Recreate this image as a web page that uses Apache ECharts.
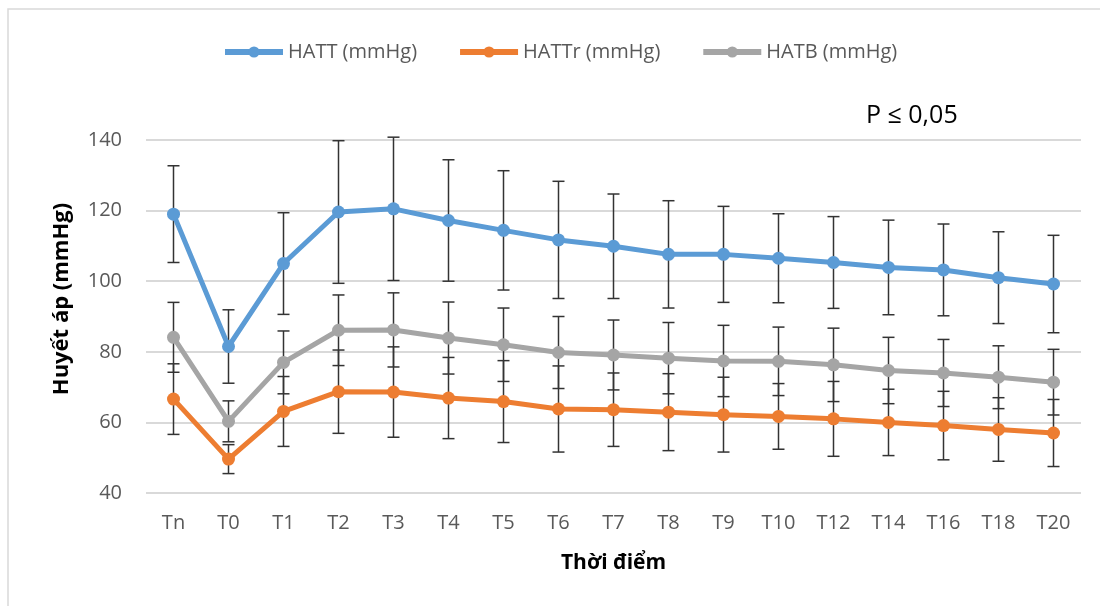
<!DOCTYPE html>
<html>
<head>
<meta charset="utf-8">
<script src="https://cdn.jsdelivr.net/npm/echarts@6/dist/echarts.min.js"></script>
<style>
  html, body { margin: 0; padding: 0; background: #fff; }
  #chart { width: 1100px; height: 606px; }
</style>
</head>
<body>
<div id="chart"></div>
<script>
var categories = ["Tn", "T0", "T1", "T2", "T3", "T4", "T5", "T6", "T7", "T8", "T9", "T10", "T12", "T14", "T16", "T18", "T20"];

// mean values
var hattMean = [119, 81.5, 105, 119.6, 120.5, 117.2, 114.4, 111.7, 109.9, 107.6, 107.6, 106.5, 105.3, 103.9, 103.2, 101, 99.2];
var hattrMean = [66.6, 49.6, 63.1, 68.7, 68.6, 66.9, 65.9, 63.8, 63.6, 62.9, 62.2, 61.7, 61.0, 60.0, 59.1, 58.0, 57.0];
var hatbMean = [84.1, 60.3, 77, 86.1, 86.2, 83.9, 82, 79.8, 79.1, 78.2, 77.4, 77.3, 76.3, 74.7, 74, 72.8, 71.4];

// standard deviations (error bars)
var hattSd = [13.7, 10.4, 14.4, 20.2, 20.3, 17.2, 16.9, 16.6, 14.8, 15.2, 13.6, 12.6, 13, 13.4, 13, 13, 13.8];
var hattrSd = [10, 4.1, 9.9, 11.8, 12.8, 11.5, 11.6, 12.2, 10.4, 10.9, 10.6, 9.3, 10.6, 9.4, 9.7, 9, 9.5];
var hatbSd = [9.9, 5.8, 8.9, 10, 10.5, 10.2, 10.4, 10.2, 9.9, 10.1, 10.1, 9.7, 10.4, 9.4, 9.5, 8.9, 9.3];

var font = "'Open Sans', 'Noto Sans', sans-serif";
var textGrey = "#595959";

function errData(mean, sd) {
  return mean.map(function (m, i) {
    return [i, m - sd[i], m + sd[i]];
  });
}

function renderErr(params, api) {
  var x = api.value(0);
  var lo = api.coord([x, api.value(1)]);
  var hi = api.coord([x, api.value(2)]);
  var cap = 6;
  var st = { stroke: "#333", lineWidth: 1.5 };
  return {
    type: "group",
    children: [
      { type: "line", shape: { x1: hi[0], y1: hi[1], x2: lo[0], y2: lo[1] }, style: st },
      { type: "line", shape: { x1: hi[0] - cap, y1: hi[1], x2: hi[0] + cap, y2: hi[1] }, style: st },
      { type: "line", shape: { x1: lo[0] - cap, y1: lo[1], x2: lo[0] + cap, y2: lo[1] }, style: st }
    ]
  };
}

function lineSeries(name, data, color) {
  return {
    name: name,
    type: "line",
    data: data,
    z: 3,
    symbol: "circle",
    symbolSize: 13,
    lineStyle: { width: 5, color: color },
    itemStyle: { color: color },
    animation: false
  };
}

function errSeries(data) {
  return {
    type: "custom",
    data: data,
    renderItem: renderErr,
    z: 2,
    silent: true,
    animation: false
  };
}

var myChart = echarts.init(document.getElementById("chart"));
var option = {
  backgroundColor: "#fff",
  textStyle: { fontFamily: font },
  graphic: [
    {
      type: "rect",
      shape: { x: 8, y: 9, width: 1120, height: 620 },
      style: { fill: "none", stroke: "#d9d9d9", lineWidth: 1.5 },
      silent: true
    },
    {
      type: "text",
      left: 866,
      top: 103,
      style: { text: "P \u2264 0,05", fontSize: 25, fill: "#000", fontFamily: font }
    },
    {
      // y axis title
      type: "text",
      x: 62,
      y: 299,
      rotation: Math.PI / 2,
      style: {
        text: "Huyết áp (mmHg)",
        fontSize: 22,
        fontWeight: "bold",
        fill: "#000",
        fontFamily: font,
        align: "center",
        verticalAlign: "middle"
      }
    }
  ],
  legend: {
    top: 37,
    left: 217,
    itemGap: 40,
    itemWidth: 58,
    itemHeight: 14,
    lineStyle: { width: 6 },
    textStyle: { fontSize: 20, color: textGrey, fontFamily: font },
    data: ["HATT (mmHg)", "HATTr (mmHg)", "HATB (mmHg)"]
  },
  grid: { left: 146, right: 19, top: 140, bottom: 113 },
  xAxis: {
    type: "category",
    data: categories,
    boundaryGap: true,
    axisLine: { show: false },
    axisTick: { show: false },
    axisLabel: { fontSize: 20, color: textGrey, margin: 20, fontFamily: font },
    name: "Thời điểm",
    nameLocation: "middle",
    nameGap: 60,
    nameTextStyle: { fontSize: 21, fontWeight: "bold", color: "#000", fontFamily: font }
  },
  yAxis: {
    type: "value",
    min: 40,
    max: 140,
    interval: 20,
    axisLine: { show: false },
    axisTick: { show: false },
    splitLine: { lineStyle: { color: "#d9d9d9", width: 2 } },
    axisLabel: { fontSize: 20, color: textGrey, margin: 24, fontFamily: font }
  },
  series: [
    errSeries(errData(hattMean, hattSd)),
    errSeries(errData(hattrMean, hattrSd)),
    errSeries(errData(hatbMean, hatbSd)),
    lineSeries("HATT (mmHg)", hattMean, "#5B9BD5"),
    lineSeries("HATTr (mmHg)", hattrMean, "#ED7D31"),
    lineSeries("HATB (mmHg)", hatbMean, "#A5A5A5")
  ]
};
option && myChart.setOption(option);
</script>
</body>
</html>
